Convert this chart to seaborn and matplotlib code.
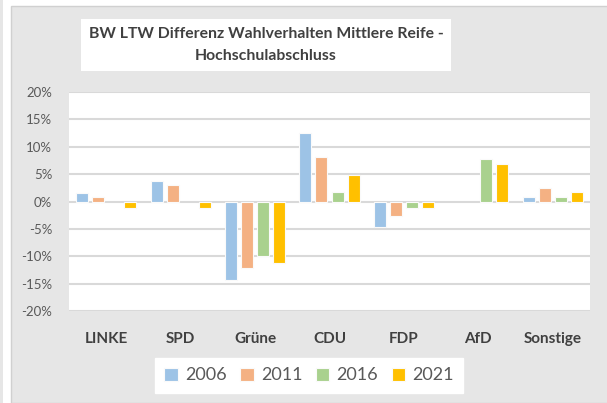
import numpy as np
import pandas as pd
import matplotlib
matplotlib.use("Agg")
import matplotlib.pyplot as plt
import matplotlib.patches as mpatches
from matplotlib.ticker import FuncFormatter
import seaborn as sns

# Werte (Differenz in Prozentpunkten)
parteien = ["LINKE", "SPD", "Grüne", "CDU", "FDP", "AfD", "Sonstige"]
jahre = ["2006", "2011", "2016", "2021"]
werte_2006 = [1.5, 3.7, -14.4, 12.5, -4.6, np.nan, 0.8]
werte_2011 = [0.8, 3.1, -12.2, 8.1, -2.7, np.nan, 2.4]
werte_2016 = [np.nan, np.nan, -10.0, 1.7, -1.1, 7.8, 0.8]
werte_2021 = [-1.1, -1.1, -11.3, 4.9, -1.1, 6.8, 1.8]
farben = ["#9DC3E6", "#F4B183", "#A9D18E", "#FFC000"]

df = pd.DataFrame({
    "Partei": parteien * 4,
    "Jahr": [j for j in jahre for _ in parteien],
    "Wert": werte_2006 + werte_2011 + werte_2016 + werte_2021,
})
df["Wert"] = df["Wert"] / 100

sns.set_style("white")
plt.rcParams["font.family"] = ["Lato", "DejaVu Sans"]

W, H = 607, 403
fig = plt.figure(figsize=(W / 100, H / 100), dpi=100)
fig.patch.set_facecolor("white")

# grauer Diagrammbereich
fig.patches.append(mpatches.Rectangle((11 / W, 0), 1, 1 - 6 / H, transform=fig.transFigure,
                                      facecolor="#e6e6e6", edgecolor="#d0d0d0", lw=1, zorder=-5))
fig.patches.append(mpatches.Rectangle((0, 0), 2.5 / W, 1, transform=fig.transFigure,
                                      facecolor="#e6e6e6", edgecolor="none", zorder=-5))

ax = fig.add_axes([69 / W, 1 - 311 / H, 521 / W, 219 / H])
ax.set_facecolor("white")

sns.barplot(data=df, x="Partei", y="Wert", hue="Jahr", hue_order=jahre, order=parteien,
            palette=farben, saturation=1, width=0.86, gap=0.25, edgecolor="#fafafa",
            linewidth=0.8, ax=ax, legend=True)

ax.set_ylim(-0.20, 0.20)
ax.set_yticks(np.arange(-0.20, 0.201, 0.05))
ax.yaxis.set_major_formatter(FuncFormatter(lambda v, p: f"{round(v * 100):d}%"))
ax.grid(axis="y", color="#d9d9d9", lw=1.5, zorder=0)
ax.set_axisbelow(True)
for s in ax.spines.values():
    s.set_visible(False)
ax.set_xlabel("")
ax.set_ylabel("")
ax.tick_params(axis="y", length=0, pad=12, labelsize=9.5, labelcolor="#595959")
ax.tick_params(axis="x", length=0, pad=15, labelsize=11, labelcolor="#404040")
for t in ax.get_xticklabels():
    t.set_fontweight("bold")

handles, labels = ax.get_legend_handles_labels()
ax.get_legend().remove()
leg = fig.legend(handles, labels, loc="center", bbox_to_anchor=(309 / W, 1 - 375.5 / H),
                 ncol=4, frameon=True, fancybox=False, fontsize=13, handlelength=0.75,
                 handleheight=0.75, handletextpad=0.4, columnspacing=0.75,
                 borderpad=0.5, labelcolor="#595959", framealpha=1)
leg.get_frame().set_edgecolor("white")
leg.get_frame().set_facecolor("white")

fig.text(266 / W, 1 - 45 / H,
         "BW LTW Differenz Wahlverhalten Mittlere Reife -\nHochschulabschluss",
         ha="center", va="center", fontsize=11.3, fontweight="bold", color="#404040",
         linespacing=1.7,
         bbox=dict(facecolor="white", edgecolor="none", boxstyle="square,pad=0.5"))

fig.savefig("out.png", dpi=100)
